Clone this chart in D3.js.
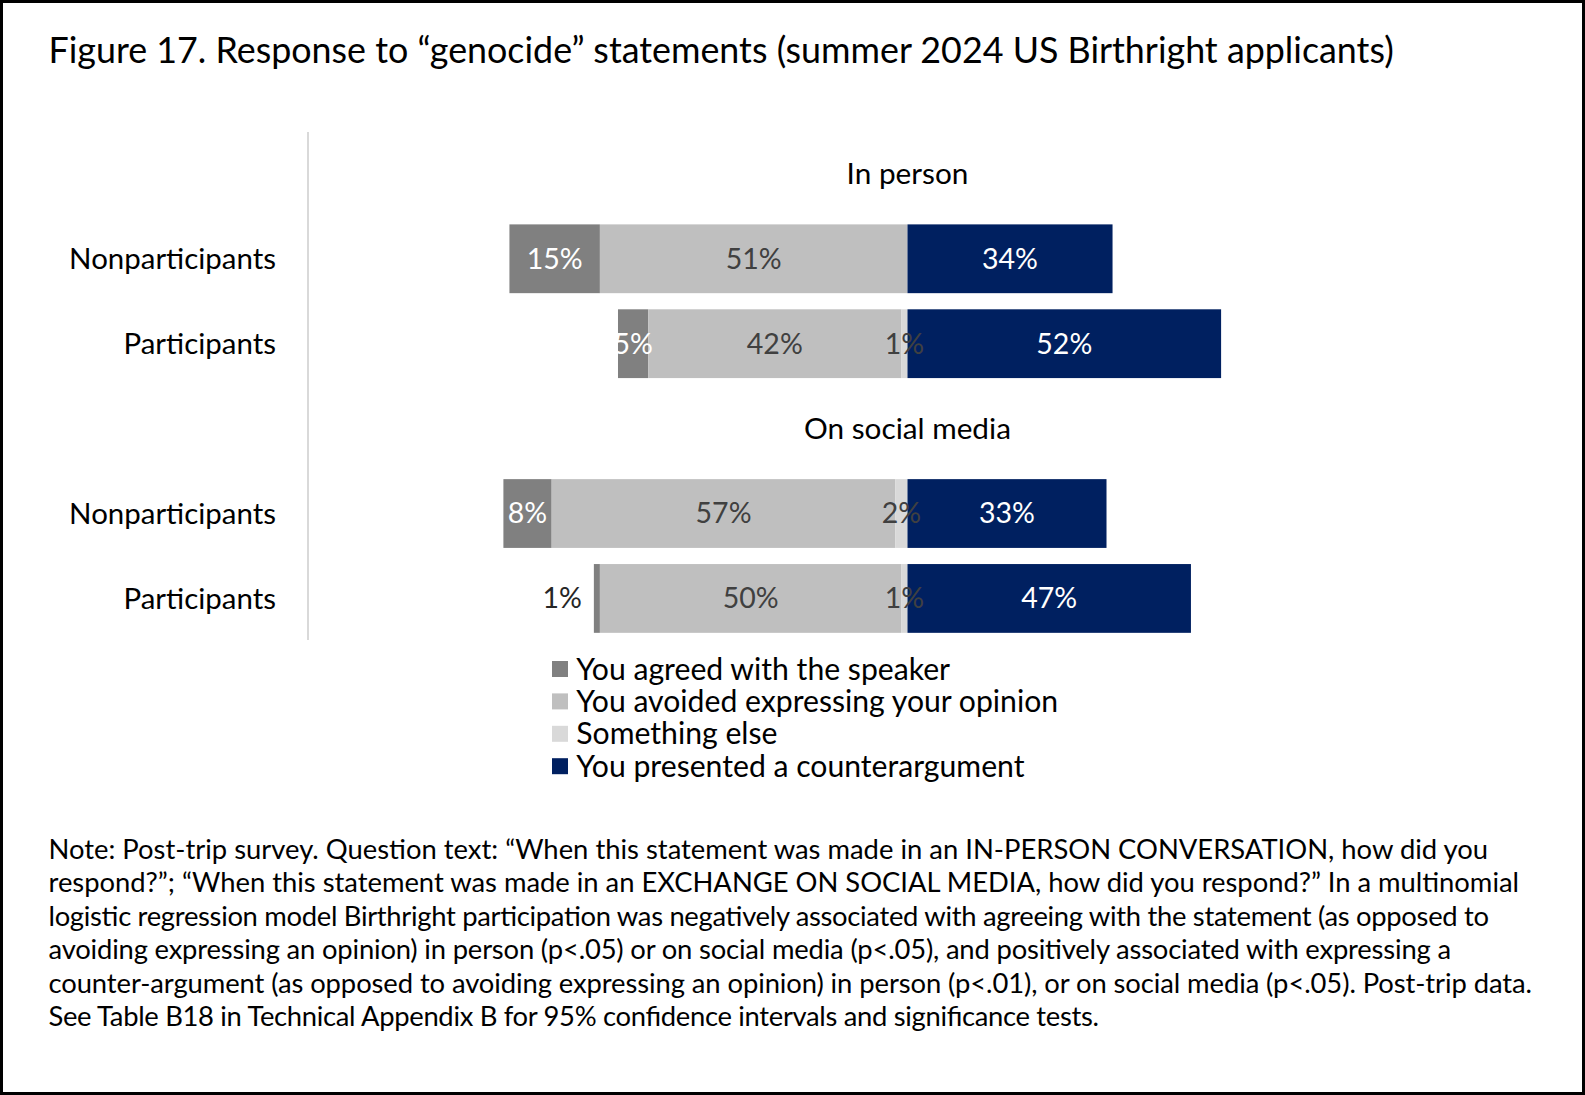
<!DOCTYPE html>
<html>
<head>
<meta charset="utf-8">
<script src="https://cdn.jsdelivr.net/npm/d3@7"></script>
<style>
  body { margin: 0; background: #fff; }
  svg text { font-family: Lato, "Open Sans", sans-serif; }
</style>
</head>
<body>
<svg id="chart" width="1585" height="1095"></svg>
<script>
/// Data ///
const groups = ["In person", "On social media"];
const rowNames = ["Nonparticipants", "Participants", "Nonparticipants", "Participants"];
const categories = ["You agreed with the speaker", "You avoided expressing your opinion", "Something else", "You presented a counterargument"];
const colors = ["#808080", "#bfbfbf", "#d9d9d9", "#002060"];
const labelColors = ["#ffffff", "#404040", "#404040", "#ffffff"];

// values per row (In person NP, In person P, Social NP, Social P)
const agreed = [15, 5, 8, 1];
const avoided = [51, 42, 57, 50];
const somethingElse = [0, 1, 2, 1];
const counter = [34, 52, 33, 47];

const titleText = "Figure 17. Response to \u201cgenocide\u201d statements (summer 2024 US Birthright applicants)";
const noteLines = [
  "Note: Post-trip survey. Question text: \u201cWhen this statement was made in an IN-PERSON CONVERSATION, how did you",
  "respond?\u201d; \u201cWhen this statement was made in an EXCHANGE ON SOCIAL MEDIA, how did you respond?\u201d In a multinomial",
  "logistic regression model Birthright participation was negatively associated with agreeing with the statement (as opposed to",
  "avoiding expressing an opinion) in person (p<.05) or on social media (p<.05), and positively associated with expressing a",
  "counter-argument (as opposed to avoiding expressing an opinion) in person (p<.01), or on social media (p<.05). Post-trip data.",
  "See Table B18 in Technical Appendix B for 95% confidence intervals and significance tests."
];
const noteRightEdges = [1488, 1519, 1489, 1451, 1532, 1099];

// Helpers
function fitSize(sel, target) {
  const w = sel.node().getComputedTextLength();
  const fs = parseFloat(sel.attr("font-size"));
  return fs * target / w;
}

const svg = d3.select("#chart");

// Frame
svg.append("rect")
  .attr("x", 1.5).attr("y", 1.5)
  .attr("width", 1582).attr("height", 1092)
  .attr("fill", "none").attr("stroke", "#000").attr("stroke-width", 3);

// Title
const title = svg.append("text")
  .attr("x", 48.5).attr("y", 63)
  .attr("font-size", 34).attr("fill", "#000")
  .text(titleText);
title.attr("font-size", fitSize(title, 1346));

/// Scales ///
const slots = ["h0", "r0", "r1", "h1", "r2", "r3"];
const y = d3.scaleBand()
  .domain(slots)
  .range([131.4, 640.9])
  .paddingInner(0.19)
  .paddingOuter(0.095);

const x = d3.scaleLinear().domain([-67, 52]).range([503.4, 1221.1]);

// Build stacked segments: left side stacks from zero outward
const rows = rowNames.map(function(name, i) {
  const vals = [agreed[i], avoided[i], somethingElse[i], counter[i]];
  const leftTotal = vals[0] + vals[1] + vals[2];
  let start = -leftTotal;
  const segs = vals.map(function(v, k) {
    const s = { key: k, value: v, x0: start, x1: start + v };
    start += v;
    return s;
  });
  return { name: name, slot: "r" + i, segs: segs };
});

// Y axis (line + row labels)
const rowLabelOf = {};
rows.forEach(function(r) { rowLabelOf[r.slot] = r.name; });
const yAxis = svg.append("g")
  .attr("transform", "translate(308,0)")
  .call(d3.axisLeft(y).tickSize(0).tickPadding(32).tickFormat(function(d) { return rowLabelOf[d] || ""; }));
yAxis.select(".domain").attr("stroke", "#d9d9d9").attr("stroke-width", 2)
  .attr("d", "M0,132V640");
yAxis.selectAll("text").attr("fill", "#000").attr("font-size", 30);
const rowSize = fitSize(yAxis.selectAll("text").filter(function(d) { return d === "r0"; }), 207);
yAxis.selectAll("text").attr("font-size", rowSize).attr("dy", "0.35em");

// Group headers
const headers = svg.selectAll(".hdr")
  .data(groups)
  .join("text")
  .attr("class", "hdr")
  .attr("x", x(0))
  .attr("y", function(d, i) { return y("h" + i) + y.bandwidth() / 2; })
  .attr("dy", "0.35em")
  .attr("text-anchor", "middle")
  .attr("font-size", 30)
  .attr("fill", "#000")
  .text(function(d) { return d; });
const hdrSize = fitSize(headers.filter(function(d, i) { return i === 1; }), 207);
headers.attr("font-size", hdrSize);

// Bars
const rowG = svg.selectAll(".row")
  .data(rows)
  .join("g")
  .attr("class", "row")
  .attr("transform", function(d) { return "translate(0," + y(d.slot) + ")"; });

rowG.selectAll("rect")
  .data(function(d) { return d.segs.filter(function(s) { return s.value > 0; }); })
  .join("rect")
  .attr("x", function(s) { return x(s.x0); })
  .attr("width", function(s) { return x(s.x1) - x(s.x0); })
  .attr("height", y.bandwidth())
  .attr("fill", function(s) { return colors[s.key]; });

// Bar labels
rowG.selectAll("text")
  .data(function(d) { return d.segs.filter(function(s) { return s.value > 0; }); })
  .join("text")
  .attr("x", function(s) {
    // a 1% agreed slice is too thin: label sits outside left
    if (s.key === 0 && s.value < 2) return x(s.x0) - 12;
    return (x(s.x0) + x(s.x1)) / 2;
  })
  .attr("y", y.bandwidth() / 2)
  .attr("dy", "0.35em")
  .attr("text-anchor", function(s) { return (s.key === 0 && s.value < 2) ? "end" : "middle"; })
  .attr("font-size", 28.5)
  .attr("fill", function(s) { return (s.key === 0 && s.value < 2) ? "#262626" : labelColors[s.key]; })
  .text(function(s) { return s.value + "%"; });

// Legend
const legend = svg.append("g").attr("transform", "translate(552,669)");
const legItems = legend.selectAll("g")
  .data(categories)
  .join("g")
  .attr("transform", function(d, i) { return "translate(0," + (i * 32.4) + ")"; });
legItems.append("rect")
  .attr("x", 0).attr("y", -8)
  .attr("width", 16).attr("height", 16)
  .attr("fill", function(d, i) { return colors[i]; });
const legText = legItems.append("text")
  .attr("x", 24.3).attr("dy", "0.35em")
  .attr("font-size", 30).attr("fill", "#000")
  .text(function(d) { return d; });
const legSize = fitSize(legText.filter(function(d, i) { return i === 1; }), 482);
legText.attr("font-size", legSize);

// Note
const notes = svg.selectAll(".note")
  .data(noteLines)
  .join("text")
  .attr("class", "note")
  .attr("x", 48.5)
  .attr("y", function(d, i) { return 859 + i * 33.4; })
  .attr("font-size", 24)
  .attr("fill", "#000")
  .text(function(d) { return d; });
const noteSize = fitSize(notes.filter(function(d, i) { return i === 0; }), noteRightEdges[0] - 48.5);
notes.attr("font-size", noteSize)
  .attr("textLength", function(d, i) { return noteRightEdges[i] - 48.5; })
  .attr("lengthAdjust", "spacing");
</script>
</body>
</html>
